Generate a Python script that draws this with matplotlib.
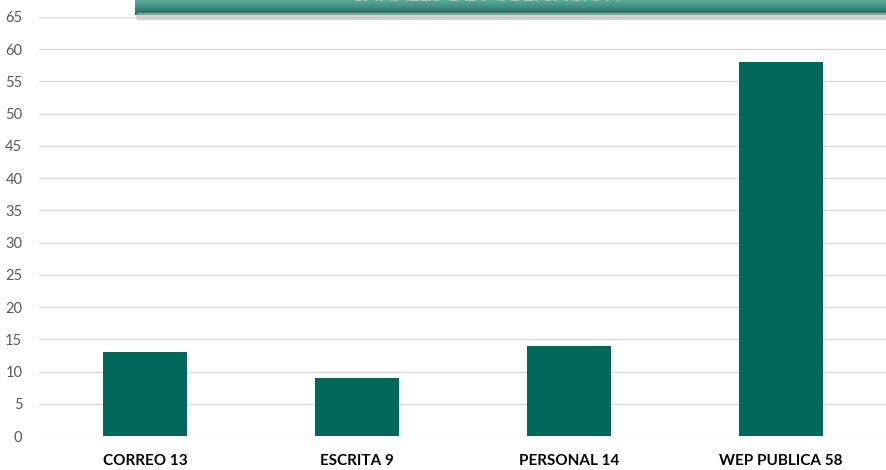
import matplotlib.pyplot as plt
import matplotlib.patches as mpatches
import numpy as np

categories = ["CORREO 13", "ESCRITA 9", "PERSONAL 14", "WEP PUBLICA 58"]
values = [13, 9, 14, 58]
yticks = list(range(0, 70, 5))

bar_color = "#00695C"
grid_color = "#D9D9D9"

fig = plt.figure(figsize=(8.87, 4.7), dpi=100)
ax = fig.add_axes([39 / 887, 34 / 470, 848 / 887, 419 / 470])

x = np.arange(len(categories))
ax.bar(x, values, width=0.4, color=bar_color, zorder=3)

ax.set_xlim(-0.5, len(categories) - 0.5)
ax.set_ylim(0, 65)
ax.set_yticks(yticks)
ax.set_yticklabels([str(t) for t in yticks], fontsize=10.5, color="#595959", family="Lato")
ax.set_xticks(x)
ax.set_xticklabels(categories, fontsize=11, fontweight="bold", color="black", family="Lato")
ax.tick_params(axis="both", length=0)
ax.tick_params(axis="x", pad=13)
ax.tick_params(axis="y", pad=12)
ax.grid(axis="y", color=grid_color, linewidth=1, zorder=0)
for s in ax.spines.values():
    s.set_visible(False)

# title banner, cut off at the top of the image
shadow = mpatches.Rectangle((137 / 887, 1 - 19 / 470), 1, 6 / 470, transform=fig.transFigure,
                            color="#BDBDBD", alpha=0.6, zorder=5)
fig.patches.append(shadow)
grad = np.linspace(0, 1, 64).reshape(-1, 1)
bax = fig.add_axes([135 / 887, 1 - 15 / 470, 1 - 135 / 887, 15 / 470])
bax.imshow(grad, aspect="auto", cmap=plt.matplotlib.colors.LinearSegmentedColormap.from_list(
    "band", ["#5BAA9C", "#3E8D80", "#1E5E54"]), extent=(0, 1, 0, 1))
bax.set_axis_off()
fig.text(485 / 887, 1 + 5 / 470, "CANALES DE PUBLICACION", ha="center", va="center",
         fontsize=15, fontweight="bold", color="#A9CBC5", family="Lato", zorder=10)

fig.savefig("out.png", dpi=100)
